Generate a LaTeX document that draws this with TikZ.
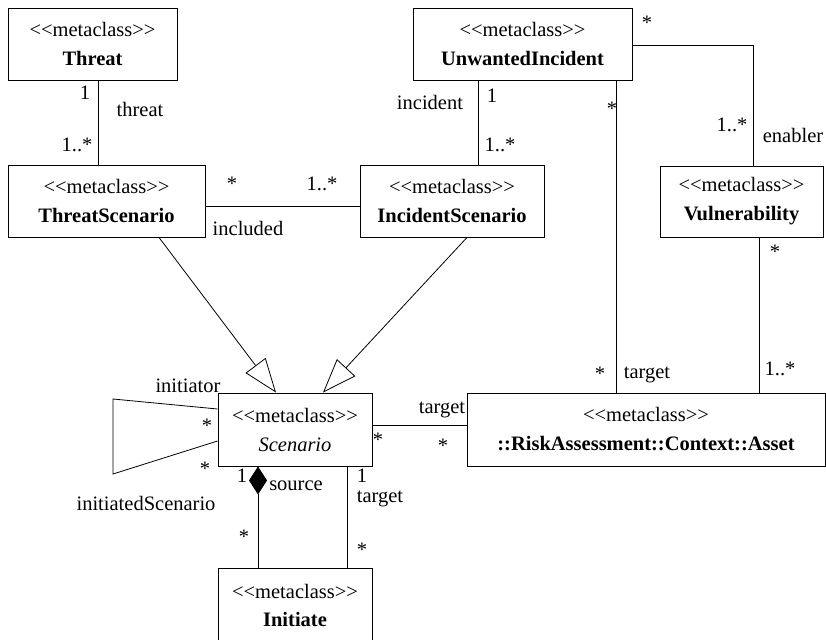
\documentclass[tikz,border=0pt]{standalone}
\usepackage{fontspec}
\setmainfont{Liberation Serif}
\usetikzlibrary{arrows.meta}
\newcommand{\umlfs}{\fontsize{20.5}{29}\selectfont}
\newcommand{\mcl}{<\kern0pt<metaclass>\kern0pt>}
\begin{document}
\begin{tikzpicture}[x=1pt,y=-1pt,
  box/.style={draw, line width=0.9pt, align=center, inner sep=0pt, font=\umlfs},
  lbl/.style={anchor=base, inner sep=0pt, font=\umlfs},
  conn/.style={line width=0.8pt},
  gen/.style={conn, -{Triangle[open,length=34pt,width=25pt,fill=white]}},
  comp/.style={conn, {Diamond[length=28pt,width=18pt]}-}]
\useasboundingbox (0,0) rectangle (826,639);
% classes
\node[box, minimum width=169pt, minimum height=72pt] (threat) at (92.5,44) {\mcl\\\textbf{Threat}};
\node[box, minimum width=219pt, minimum height=72pt] (ui) at (522.5,44) {\mcl\\\textbf{UnwantedIncident}};
\node[box, minimum width=197pt, minimum height=72pt] (tsc) at (106.5,201) {\mcl\\\textbf{ThreatScenario}};
\node[box, minimum width=184pt, minimum height=72pt] (isc) at (452,201) {\mcl\\\textbf{IncidentScenario}};
\node[box, minimum width=163pt, minimum height=71pt] (vul) at (741.5,201.5) {\mcl\\\textbf{Vulnerability}};
\node[box, minimum width=154pt, minimum height=73pt] (scen) at (295,429.5) {\mcl\\\textit{Scenario}};
\node[box, minimum width=358pt, minimum height=73pt] (asset) at (646,429.5) {\mcl\\\textbf{::RiskAssessment::Context::Asset}};
\node[box, minimum width=154pt, minimum height=74pt] (init) at (295,605) {\mcl\\[-1pt]\textbf{Initiate}};
% connectors
\draw[conn] (threat.south -| 98,0) -- (tsc.north -| 98,0);
\draw[conn] (tsc.east |- 0,206) -- (isc.west |- 0,206);
\draw[conn] (ui.south -| 478,0) -- (isc.north -| 478,0);
\draw[conn] (ui.east |- 0,45) -| (vul.north -| 753,0);
\draw[conn] (ui.south -| 616,0) -- (asset.north -| 616,0);
\draw[conn] (vul.south -| 759,0) -- (asset.north -| 759,0);
\draw[conn] (scen.east |- 0,425) -- (asset.west |- 0,425);
\draw[gen] (tsc.south -| 159,0) -- (scen.north -| 276,0);
\draw[gen] (isc.south -| 467,0) -- (scen.north -| 323,0);
\draw[conn] (scen.west |- 0,409) -- (113,399) -- (113,474) -- (scen.west |- 0,441);
\draw[comp] (scen.south -| 258,0) -- (init.north -| 258,0);
\draw[conn] (scen.south -| 347,0) -- (init.north -| 347,0);
% labels
\node[lbl] (l1) at (85,100) {1};
\node[lbl] (l2) at (140,117) {threat};
\node[lbl] (l3) at (77,152) {1..*};
\node[lbl] (l4) at (232,190) {*};
\node[lbl] (l5) at (322,190) {1..*};
\node[lbl] (l6) at (248,235) {included};
\node[lbl] (l7) at (430,110) {incident};
\node[lbl] (l8) at (492,103) {1};
\node[lbl] (l9) at (500,152) {1..*};
\node[lbl] (l10) at (647,30) {*};
\node[lbl] (l11) at (612,116) {*};
\node[lbl] (l12) at (732,132) {1..*};
\node[lbl] (l13) at (793,143) {enabler};
\node[lbl] (l14) at (775,258) {*};
\node[lbl] (l15) at (600,380) {*};
\node[lbl] (l16) at (647,378) {target};
\node[lbl] (l17) at (780,375) {1..*};
\node[lbl] (l18) at (442,413) {target};
\node[lbl] (l19) at (443,452) {*};
\node[lbl] (l20) at (378,446) {*};
\node[lbl] (l21) at (188,392) {initiator};
\node[lbl] (l22) at (207,432) {*};
\node[lbl] (l23) at (205,475) {*};
\node[lbl] (l24) at (146,510) {initiatedScenario};
\node[lbl] (l25) at (242,482) {1};
\node[lbl] (l26) at (296,490) {source};
\node[lbl] (l27) at (362,482) {1};
\node[lbl] (l28) at (380,502) {target};
\node[lbl] (l29) at (244,543) {*};
\node[lbl] (l30) at (362,556) {*};
\end{tikzpicture}
\end{document}
